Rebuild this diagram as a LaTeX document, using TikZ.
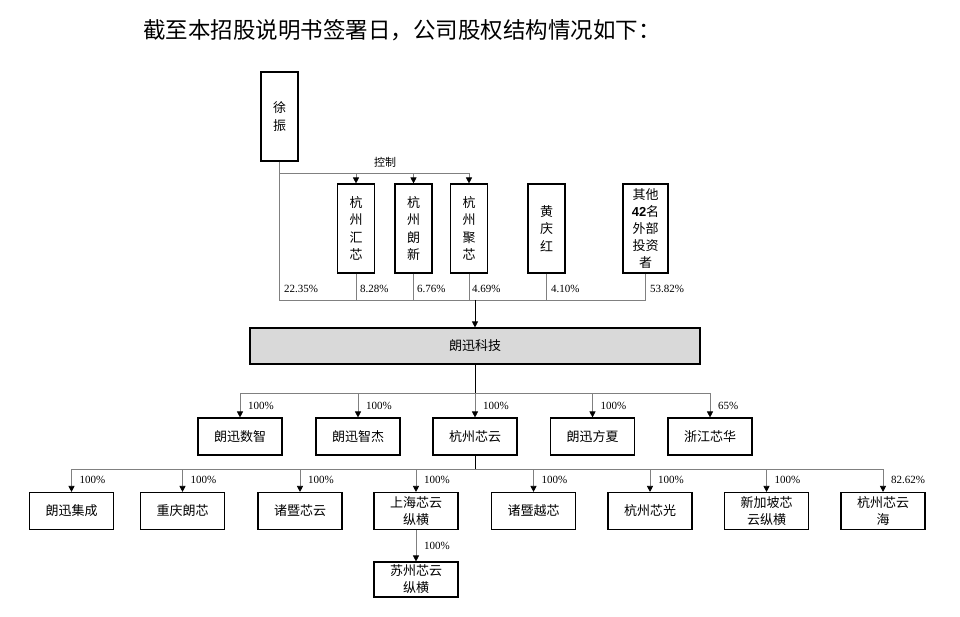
\documentclass[tikz,border=0pt]{standalone}
\usepackage{fontspec}
\setmainfont{Liberation Serif}
\newfontfamily\cjk{Noto Sans CJK SC}
\newfontfamily\numsf{Liberation Sans}
\usetikzlibrary{arrows.meta}

\begin{document}
\begin{tikzpicture}[x=1pt,y=-1pt]
   \tikzstyle{box}=[draw, line width=1.1pt, inner sep=0pt, align=center, font=\cjk\fontsize{13}{17.5}\selectfont]
   \tikzstyle{vbox}=[box, minimum width=37pt, minimum height=89pt]
   \tikzstyle{hbox}=[box, minimum width=84pt, minimum height=37pt, font=\cjk\fontsize{13}{17}\selectfont]
   \tikzstyle{link}=[draw=gray, line width=0.7pt]
   \tikzstyle{trunk}=[draw=black, line width=0.8pt]
   \tikzstyle{arr}=[link, -{Triangle[width=6pt,length=6pt,color=black]}]
   \tikzstyle{pct}=[anchor=west, inner sep=0pt, font=\fontsize{11}{13}\selectfont]

\useasboundingbox (0,0) rectangle (960,617);

\node[anchor=west, inner sep=0pt, font=\cjk\fontsize{22.5}{26}\selectfont] (title) at (143,30) {截至本招股说明书签署日，公司股权结构情况如下：};

% shareholders
\node[vbox] (xz) at (279.5,116.5) {徐\\振};
\node[vbox] (hzhx) at (356,228.5) {杭\\州\\汇\\芯};
\node[vbox] (hzlx) at (413.5,228.5) {杭\\州\\朗\\新};
\node[vbox] (hzjx) at (469,228.5) {杭\\州\\聚\\芯};
\node[vbox] (hqh) at (546.5,228.5) {黄\\庆\\红};
\node[vbox, minimum width=45pt, font=\cjk\fontsize{13}{17}\selectfont] (qt) at (645.5,228.5) {其他\\{\numsf\bfseries 42}名\\外部\\投资\\者};

\coordinate (ctl) at (280,173);
\node[font=\cjk\fontsize{11}{13}\selectfont] (ctltext) at (385,162) {控制};
\foreach \n in {hzhx,hzlx,hzjx}
   \draw[arr] (ctl) -| (\n.north);

\coordinate (own) at (475,300);
\foreach \n in {xz,hzhx,hzlx,hzjx,hqh,qt}
   \draw[link] (\n.south) |- (own);

\node[pct] at (284,289) {22.35\%};
\node[pct] at (360,289) {8.28\%};
\node[pct] at (417,289) {6.76\%};
\node[pct] at (472,289) {4.69\%};
\node[pct] at (551,289) {4.10\%};
\node[pct] at (650,289) {53.82\%};

% company
\node[box, fill=gray!30, minimum width=450pt, minimum height=36pt] (lxkj) at (475,346) {朗迅科技};
\draw[trunk, -{Triangle[width=6pt,length=6pt]}] (own) -- (lxkj.north);

% subsidiaries
\node[hbox] (lxsz) at (240,436.5) {朗迅数智};
\node[hbox] (lxzj) at (358,436.5) {朗迅智杰};
\node[hbox] (hzxy) at (475,436.5) {杭州芯云};
\node[hbox] (lxfx) at (592.5,436.5) {朗迅方夏};
\node[hbox] (zjxh) at (710,436.5) {浙江芯华};

\coordinate (sub) at (475,393);
\draw[trunk] (lxkj.south) -- (sub);
\foreach \n/\p in {lxsz/100,lxzj/100,hzxy/100,lxfx/100,zjxh/65}{
   \draw[arr] (sub) -| (\n.north);
   \node[pct] at ([xshift=8pt,yshift=12pt]\n.north) {\p\%};
}

% second level
\node[hbox] (lxjc) at (71.5,511) {朗迅集成};
\node[hbox] (cqlx) at (182.5,511) {重庆朗芯};
\node[hbox] (zjxy) at (300,511) {诸暨芯云};
\node[hbox] (shzh) at (416,511) {上海芯云\\纵横};
\node[hbox] (zjyx) at (533.5,511) {诸暨越芯};
\node[hbox] (hzxg) at (650,511) {杭州芯光};
\node[hbox] (xjp) at (766.5,511) {新加坡芯\\云纵横};
\node[hbox] (hzxyh) at (883,511) {杭州芯云\\海};
\node[hbox, minimum height=35pt] (szzh) at (416,579.5) {苏州芯云\\纵横};

\coordinate (sub2) at (475,469);
\draw[trunk] (hzxy.south) -- (sub2);
\foreach \n/\p in {lxjc/100,cqlx/100,zjxy/100,shzh/100,zjyx/100,hzxg/100,xjp/100,hzxyh/82.62}{
   \draw[arr] (sub2) -| (\n.north);
   \node[pct] at ([xshift=8pt,yshift=12pt]\n.north) {\p\%};
}
\draw[arr] (shzh) -- (szzh);
\node[pct] at (424,546) {100\%};

\end{tikzpicture}
\end{document}
